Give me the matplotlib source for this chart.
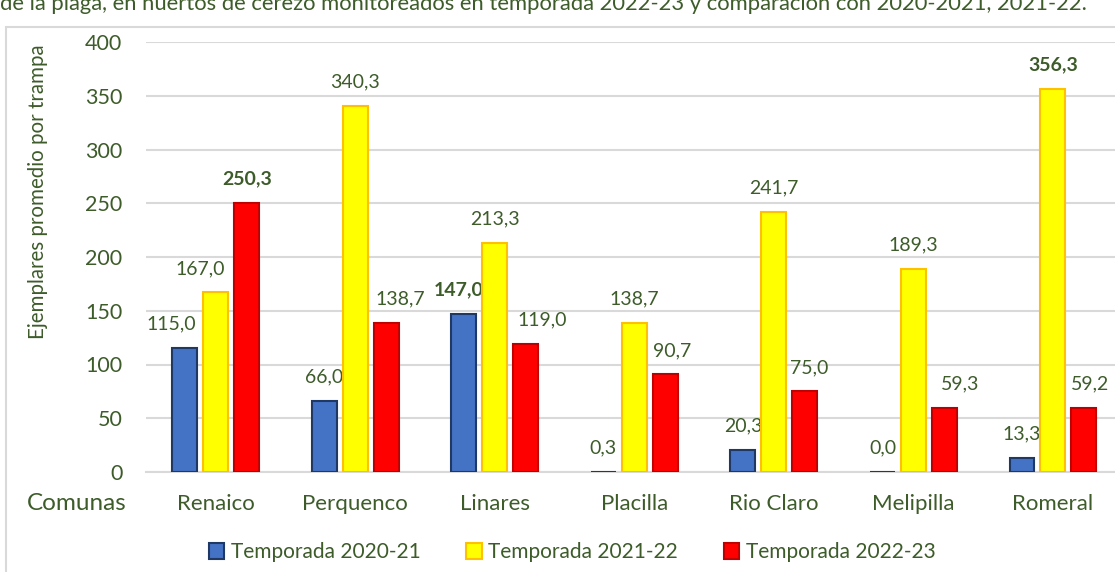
import matplotlib
matplotlib.use('Agg')
import matplotlib.pyplot as plt
from matplotlib.patches import Patch, Rectangle
import numpy as np

plt.rcParams['font.family'] = ['Lato', 'DejaVu Sans']

# data
comunas = ['Renaico', 'Perquenco', 'Linares', 'Placilla', 'Rio Claro', 'Melipilla', 'Romeral']
series_names = ['Temporada 2020-21', 'Temporada 2021-22', 'Temporada 2022-23']
t_2020_21 = [115.0, 66.0, 147.0, 0.3, 20.3, 0.0, 13.3]
t_2021_22 = [167.0, 340.3, 213.3, 138.7, 241.7, 189.3, 356.3]
t_2022_23 = [250.3, 138.7, 119.0, 90.7, 75.0, 59.3, 59.2]
y_ticks = [0, 50, 100, 150, 200, 250, 300, 350, 400]

# which labels are bold (max per series)
bold_labels = [[False, False, True, False, False, False, False],
               [False, False, False, False, False, False, True],
               [True, False, False, False, False, False, False]]
# horizontal nudges of the value labels (pixels)
label_dx = [[-14, 0, -5, 0, 0, 0, 0],
            [-16, 0, 0, 0, 0, 0, 0],
            [0, 14, 16, 7, 4, 16, 6]]

txt = '#3D5C2A'
fills = ['#4472C4', '#FFFF00', '#FF0000']
edges = ['#1F3864', '#FFC000', '#C00000']

W, H = 1115, 572
fig = plt.figure(figsize=(W / 100, H / 100), dpi=100)

# outer chart frame + cut-off caption
fig.patches.append(Rectangle((6 / W, -0.1), 1.2, 1 - 27 / H + 0.1, transform=fig.transFigure,
                             fill=False, edgecolor='#D9D9D9', linewidth=1.5))
fig.text(0, 1 - 10 / H, 'de la plaga, en huertos de cerezo monitoreados en temporada 2022-23 y '
         'comparación con 2020-2021, 2021-22.', color=txt, fontsize=15.8, ha='left', va='baseline')

ax = fig.add_axes([146 / W, 1 - 472 / H, 1 - 146 / W, (472 - 42) / H])

x = np.arange(len(comunas))
width = 0.179
step = 0.222
all_series = [t_2020_21, t_2021_22, t_2022_23]
for i, vals in enumerate(all_series):
    xs = x + (i - 1) * step
    ax.bar(xs, vals, width, color=fills[i], edgecolor=edges[i], linewidth=1.5, zorder=3)
    for j, v in enumerate(vals):
        ax.annotate(f'{v:.1f}'.replace('.', ','), (xs[j], v), xytext=(label_dx[i][j], 24),
                    textcoords='offset pixels', ha='center', va='center', color=txt,
                    fontsize=14, fontweight='bold' if bold_labels[i][j] else 'normal')

ax.set_xlim(-0.5, (W - 216) / 139.5)
ax.set_ylim(0, 400)
ax.set_yticks(y_ticks)
ax.set_yticklabels([str(t) for t in y_ticks])
ax.yaxis.grid(True, color='#D9D9D9', linewidth=1.5, zorder=0)
ax.set_axisbelow(True)
for s in ['top', 'right', 'left']:
    ax.spines[s].set_visible(False)
ax.spines['bottom'].set_color('#D9D9D9')
ax.spines['bottom'].set_linewidth(1.5)
ax.tick_params(axis='both', length=0, colors=txt)
ax.tick_params(axis='y', pad=17, labelsize=15.5)
ax.tick_params(axis='x', pad=16, labelsize=16)
ax.set_xticks(x)
ax.set_xticklabels(comunas)

fig.text(127 / W, 1 - 503 / H, 'Comunas', color=txt, fontsize=17.5, ha='right', va='center')
fig.text(38 / W, 1 - 192 / H, 'Ejemplares promedio por trampa', color=txt, fontsize=14.8,
         rotation=90, ha='center', va='center')

handles = [Patch(facecolor=fills[i], edgecolor=edges[i], linewidth=1.5) for i in range(3)]
fig.legend(handles, series_names, loc='center', bbox_to_anchor=(572 / W, 1 - 552 / H), ncol=3,
           frameon=False, fontsize=15, labelcolor=txt, handlelength=0.75, handleheight=0.8,
           handletextpad=0.3, columnspacing=2.2, borderaxespad=0)

fig.savefig('out.png', dpi=100)
